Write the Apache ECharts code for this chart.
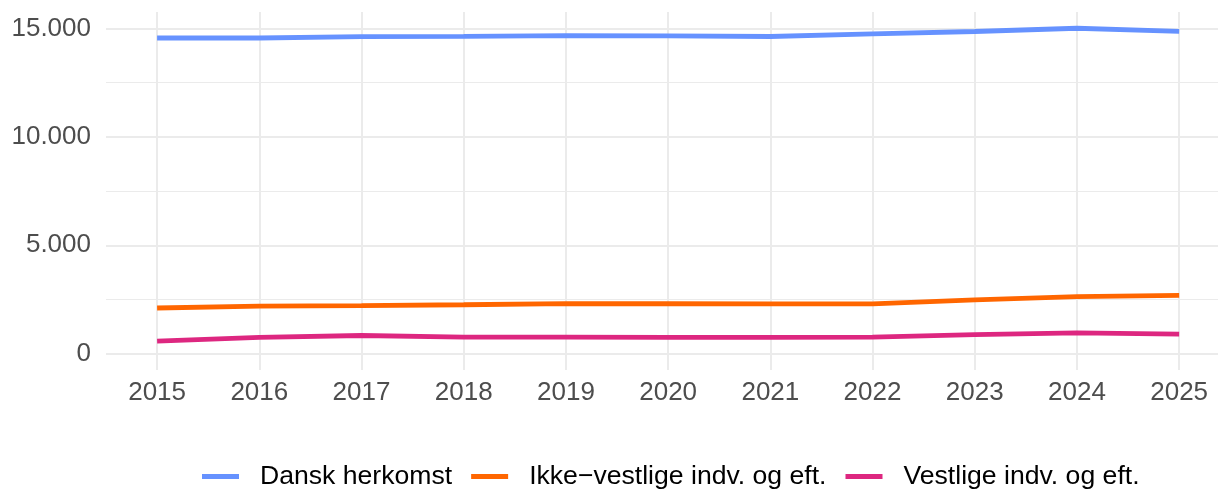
<!DOCTYPE html>
<html>
<head>
<meta charset="utf-8">
<script src="https://cdn.jsdelivr.net/npm/echarts@6/dist/echarts.min.js"></script>
<style>
  html, body { margin: 0; padding: 0; background: #fff; }
  #main { width: 1218px; height: 489px; }
</style>
</head>
<body>
<div id="main"></div>
<script>
// data
var years = [2015, 2016, 2017, 2018, 2019, 2020, 2021, 2022, 2023, 2024, 2025];
var dansk = [14560, 14560, 14620, 14640, 14675, 14655, 14630, 14750, 14860, 15010, 14870];
var ikkeVestlige = [2110, 2200, 2215, 2260, 2310, 2305, 2295, 2295, 2480, 2630, 2690];
var vestlige = [580, 750, 840, 765, 765, 750, 750, 765, 885, 960, 900];
var yTicks = [0, 5000, 10000, 15000];
var yMinorTicks = [2500, 7500, 12500];
var seriesNames = ['Dansk herkomst', 'Ikke\u2212vestlige indv. og eft.', 'Vestlige indv. og eft.'];

var fontName = '"Liberation Sans", Arial, sans-serif';

function pairs(vals) {
  return years.map(function (y, i) { return [y, vals[i]]; });
}

function fmt(v) {
  // dansk tusindtalsseparator
  return String(v).replace(/\B(?=(\d{3})+(?!\d))/g, '.');
}

function lineSeries(name, vals, color) {
  return {
    name: name,
    type: 'line',
    data: pairs(vals),
    showSymbol: false,
    symbol: 'none',
    lineStyle: { width: 4.8, color: color, cap: 'butt' },
    itemStyle: { color: color },
    z: 3
  };
}

var myChart = echarts.init(document.getElementById('main'));
myChart.setOption({
  animation: false,
  backgroundColor: '#ffffff',
  // panel runs past the right edge in the original, so max is cut at the canvas edge
  grid: { left: 106, right: 0, top: 12, bottom: 119, containLabel: false },
  legend: {
    left: 197,
    top: 458,
    itemWidth: 37,
    itemHeight: 5,
    itemGap: 19,
    icon: 'rect',
    textStyle: { fontFamily: fontName, fontSize: 26.6, color: '#000000', padding: [0, 0, 0, 16] },
    data: seriesNames
  },
  xAxis: {
    type: 'value',
    min: 2014.5,
    max: 2025.38,
    axisLine: { show: false },
    axisTick: { show: false, customValues: years },
    axisLabel: {
      customValues: years,
      margin: 10,
      fontFamily: fontName,
      fontSize: 26,
      color: '#4D4D4D',
      formatter: function (v) { return String(v); }
    },
    splitLine: { show: true, lineStyle: { color: '#EBEBEB', width: 2 } }
  },
  yAxis: [
    {
      type: 'value',
      min: -750,
      max: 15760,
      axisLine: { show: false },
      axisTick: { show: false, customValues: yTicks },
      axisLabel: {
        customValues: yTicks,
        margin: 15,
        fontFamily: fontName,
        fontSize: 26,
        color: '#4D4D4D',
        formatter: function (v) { return fmt(v); }
      },
      splitLine: { show: true, lineStyle: { color: '#EBEBEB', width: 2 } }
    },
    {
      type: 'value',
      position: 'left',
      min: -750,
      max: 15760,
      axisLine: { show: false },
      axisTick: { show: false, customValues: yMinorTicks },
      axisLabel: { show: false, customValues: yMinorTicks },
      splitLine: { show: true, lineStyle: { color: '#EBEBEB', width: 1 } }
    }
  ],
  series: [
    lineSeries(seriesNames[0], dansk, '#6692FF'),
    lineSeries(seriesNames[1], ikkeVestlige, '#FF6600'),
    lineSeries(seriesNames[2], vestlige, '#DD2780')
  ]
});
</script>
</body>
</html>
